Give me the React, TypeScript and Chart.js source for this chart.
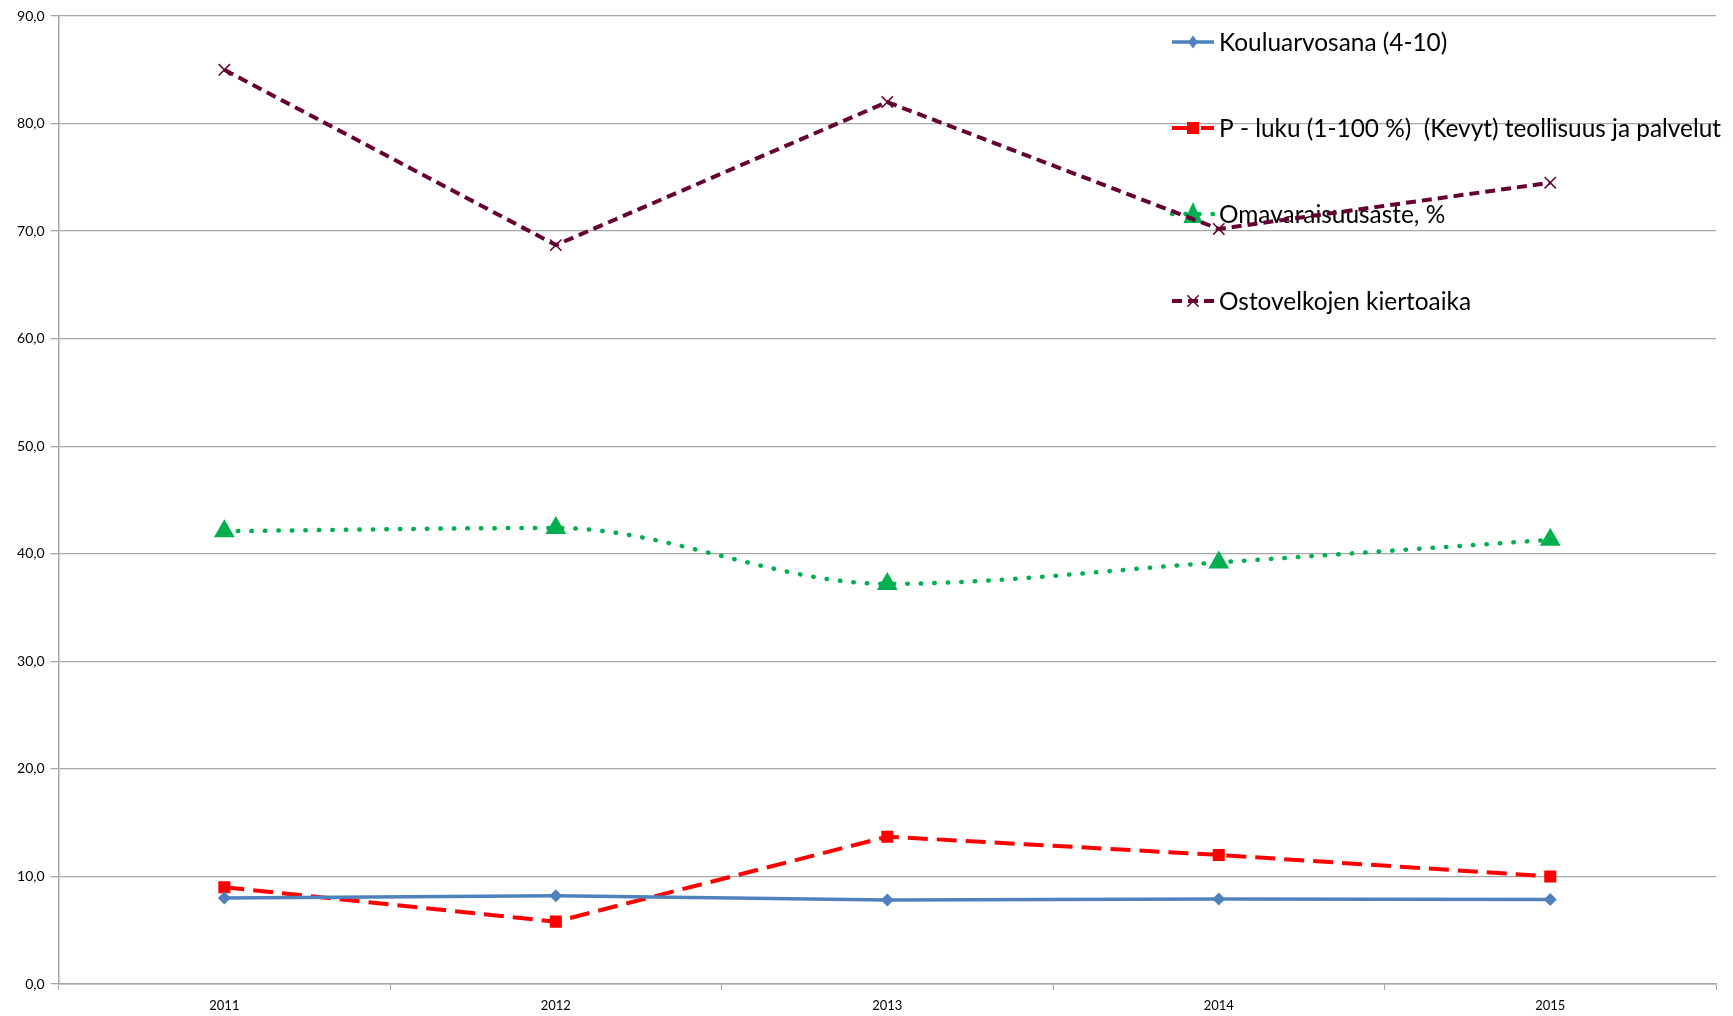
import React, { useEffect, useRef } from "react";
import { Chart, registerables } from "chart.js";

Chart.register(...registerables);

const years = ["2011", "2012", "2013", "2014", "2015"];
const kouluarvosana = [8.0, 8.2, 7.8, 7.9, 7.85];
const pLuku = [9.0, 5.8, 13.7, 12.0, 10.0];
const omavaraisuusaste = [42.1, 42.4, 37.2, 39.2, 41.3];
const ostovelkojen = [85.0, 68.7, 82.0, 70.2, 74.5];

const seriesNames = [
  "Kouluarvosana (4-10)",
  "P - luku (1-100 %)  (Kevyt) teollisuus ja palvelut",
  "Omavaraisuusaste, %",
  "Ostovelkojen kiertoaika",
];

const W = 1733;
const H = 1016;

function drawMarker(ctx: CanvasRenderingContext2D, style: string, x: number, y: number, r: number, color: string, bw: number) {
  ctx.save();
  ctx.fillStyle = color;
  ctx.strokeStyle = color;
  ctx.lineWidth = bw;
  ctx.setLineDash([]);
  ctx.beginPath();
  if (style === "rectRot") {
    ctx.moveTo(x, y - r);
    ctx.lineTo(x + r * 0.75, y);
    ctx.lineTo(x, y + r);
    ctx.lineTo(x - r * 0.75, y);
    ctx.closePath();
    ctx.fill();
  } else if (style === "rect") {
    const s = Math.SQRT1_2 * r;
    ctx.rect(x - s, y - s, 2 * s, 2 * s);
    ctx.fill();
  } else if (style === "triangle") {
    ctx.moveTo(x, y - r);
    ctx.lineTo(x + r * 0.8, y + r * 0.75);
    ctx.lineTo(x - r * 0.8, y + r * 0.75);
    ctx.closePath();
    ctx.fill();
  } else if (style === "crossRot") {
    const s = r * Math.SQRT1_2;
    ctx.moveTo(x - s, y - s);
    ctx.lineTo(x + s, y + s);
    ctx.moveTo(x + s, y - s);
    ctx.lineTo(x - s, y + s);
    ctx.stroke();
  }
  ctx.restore();
}

const legendPlugin = {
  id: "insideLegend",
  beforeDatasetsDraw(chart: any) {
    const ctx: CanvasRenderingContext2D = chart.ctx;
    const ys = [42, 128, 214, 301];
    const x0 = 1172;
    const x1 = 1214;
    chart.data.datasets.forEach((ds: any, i: number) => {
      const y = ys[i];
      ctx.save();
      ctx.strokeStyle = ds.borderColor;
      ctx.lineWidth = ds.borderWidth;
      ctx.lineCap = ds.borderCapStyle || "butt";
      ctx.setLineDash(ds.borderDash || []);
      ctx.beginPath();
      ctx.moveTo(x0, y);
      ctx.lineTo(x1, y);
      ctx.stroke();
      ctx.restore();
      drawMarker(ctx, ds.pointStyle, (x0 + x1) / 2, y, ds.pointRadius, ds.pointBackgroundColor, ds.pointBorderWidth || 1);
      ctx.save();
      ctx.fillStyle = "#000000";
      ctx.font = "24.4px Lato, 'Open Sans', sans-serif";
      ctx.textBaseline = "middle";
      ctx.textAlign = "left";
      ctx.fillText(ds.label, 1219, y + 1);
      ctx.restore();
    });
  },
};

export default function App() {
  const ref = useRef<HTMLCanvasElement | null>(null);

  useEffect(() => {
    if (!ref.current) return;
    const chart = new Chart(ref.current, {
      type: "line",
      data: {
        labels: years,
        datasets: [
          {
            label: seriesNames[0],
            data: kouluarvosana,
            borderColor: "#4F81BD",
            backgroundColor: "#4F81BD",
            borderWidth: 3.5,
            pointStyle: "rectRot",
            pointRadius: 6.5,
            pointBackgroundColor: "#4F81BD",
            pointBorderColor: "#4F81BD",
            pointBorderWidth: 0,
            tension: 0,
            order: 0,
          } as any,
          {
            label: seriesNames[1],
            data: pLuku,
            borderColor: "#FF0000",
            backgroundColor: "#FF0000",
            borderWidth: 4,
            borderDash: [20, 9],
            pointStyle: "rect",
            pointRadius: 8.5,
            pointBackgroundColor: "#FF0000",
            pointBorderColor: "#FF0000",
            pointBorderWidth: 0,
            tension: 0,
            order: 1,
          } as any,
          {
            label: seriesNames[2],
            data: omavaraisuusaste,
            borderColor: "#00B050",
            backgroundColor: "#00B050",
            borderWidth: 4.5,
            borderDash: [0.5, 13],
            borderCapStyle: "round",
            pointStyle: "triangle",
            pointRadius: 12,
            pointBackgroundColor: "#00B050",
            pointBorderColor: "#00B050",
            pointBorderWidth: 0,
            cubicInterpolationMode: "monotone",
            tension: 0.4,
            order: 2,
          } as any,
          {
            label: seriesNames[3],
            data: ostovelkojen,
            borderColor: "#660033",
            backgroundColor: "#660033",
            borderWidth: 4,
            borderDash: [10, 6],
            pointStyle: "crossRot",
            pointRadius: 8,
            pointBackgroundColor: "#660033",
            pointBorderColor: "#660033",
            pointBorderWidth: 1.5,
            tension: 0,
            order: 3,
          } as any,
        ],
      },
      options: {
        responsive: false,
        animation: false,
        devicePixelRatio: 1,
        layout: { padding: { top: 16, right: 17, bottom: 0, left: 0 } },
        plugins: {
          legend: { display: false },
          tooltip: { enabled: false },
          title: { display: false },
        },
        scales: {
          x: {
            offset: true,
            grid: {
              offset: true,
              drawOnChartArea: false,
              drawTicks: true,
              tickLength: 6,
              color: "#A6A6A6",
            },
            border: { color: "#A6A6A6", width: 1.5 },
            ticks: {
              color: "#000000",
              font: { family: "'Liberation Sans Narrow', Lato, sans-serif", size: 13 },
              padding: 8,
              maxRotation: 0,
            },
            afterFit(scale: any) {
              scale.height = 32;
            },
          },
          y: {
            min: 0,
            max: 90,
            grid: {
              color: "#A6A6A6",
              lineWidth: 1.3,
              drawTicks: true,
              tickLength: 8,
            },
            border: { color: "#A6A6A6", width: 1.5 },
            ticks: {
              stepSize: 10,
              color: "#000000",
              font: { family: "Lato, 'Open Sans', sans-serif", size: 14 },
              padding: 6,
              callback: (v: any) => Number(v).toFixed(1).replace(".", ","),
            },
            afterFit(scale: any) {
              scale.width = 58.6;
            },
          },
        },
      },
      plugins: [legendPlugin],
    } as any);
    return () => chart.destroy();
  }, []);

  return (
    <div style={{ position: "absolute", left: 0, top: 0, width: W, height: H, background: "#ffffff" }}>
      <canvas ref={ref} width={W} height={H} style={{ width: W, height: H, display: "block" }} />
    </div>
  );
}
